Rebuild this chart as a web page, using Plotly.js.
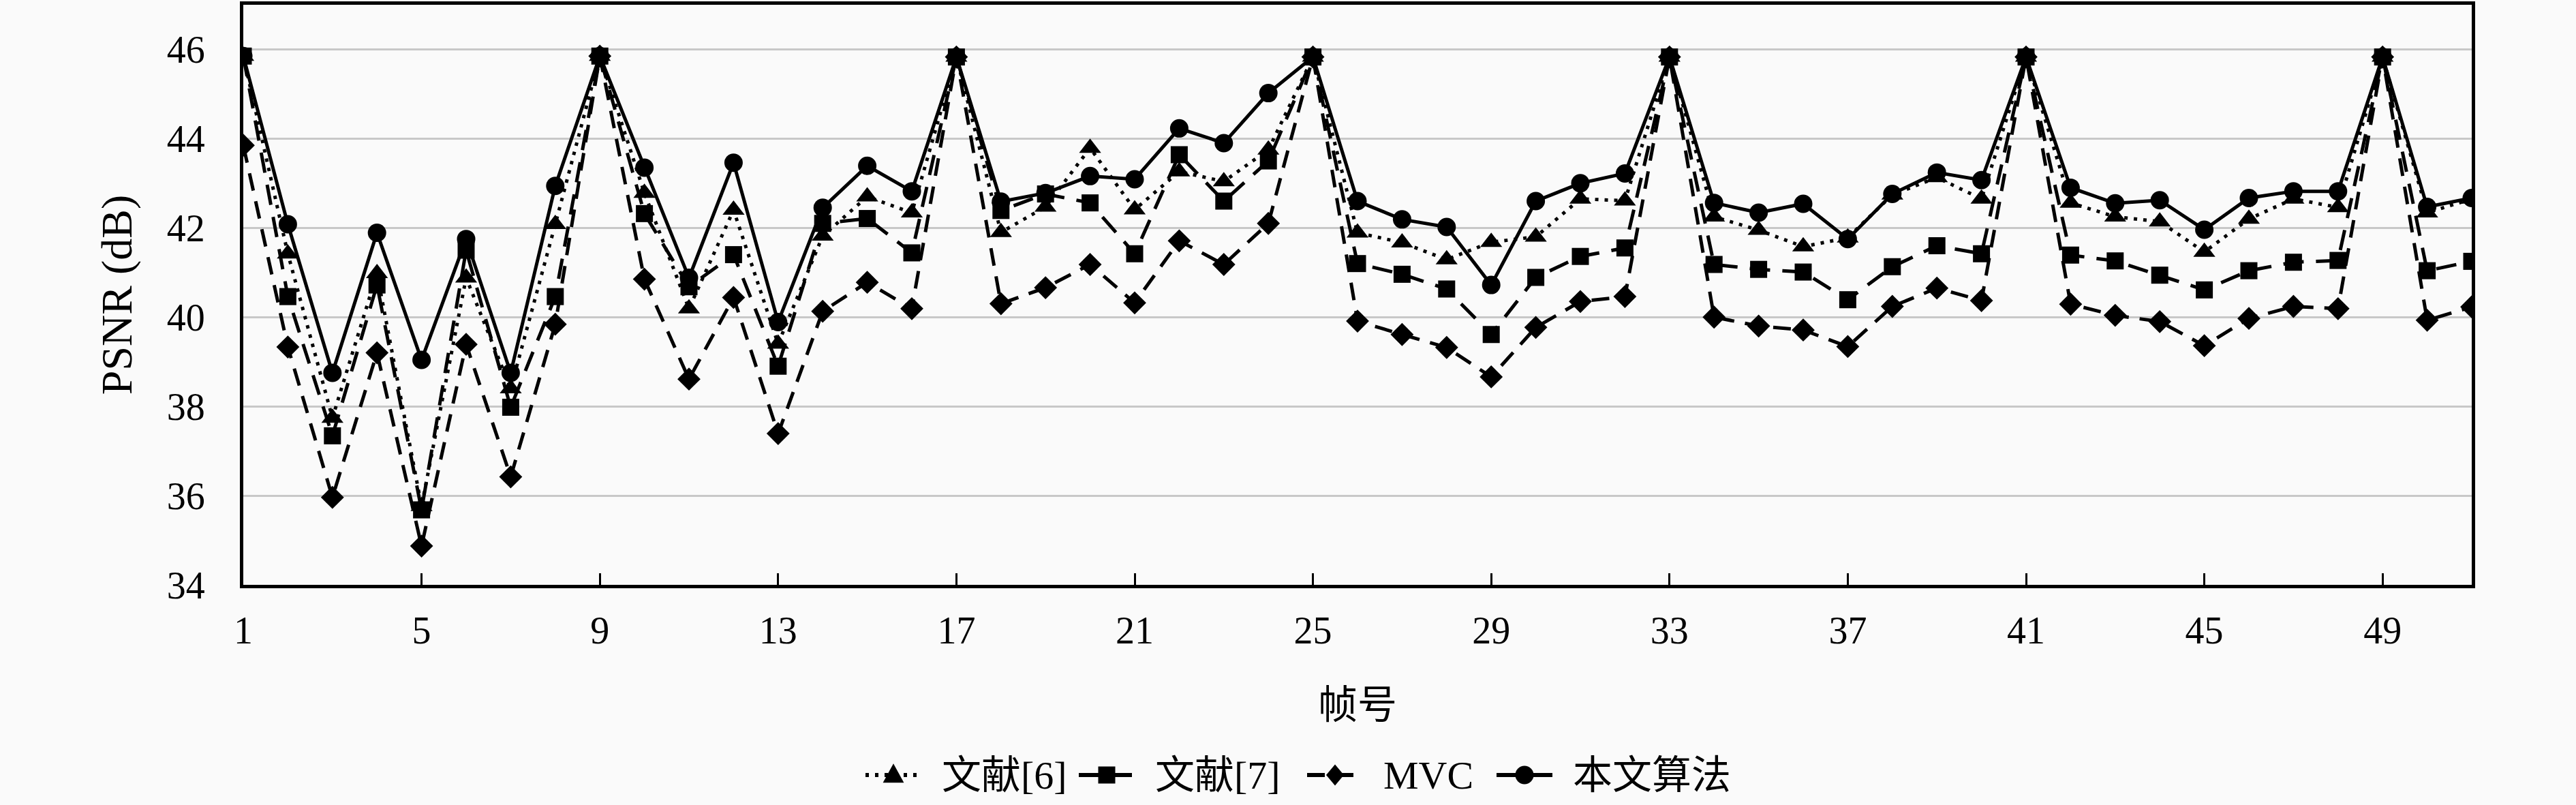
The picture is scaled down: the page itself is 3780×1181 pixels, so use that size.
<!DOCTYPE html>
<html>
<head>
<meta charset="utf-8">
<script src="https://cdn.plot.ly/plotly-3.0.1.min.js"></script>
<style>
  html, body { margin: 0; padding: 0; background: #fafafa; }
  #chart { width: 3780px; height: 1181px; }
</style>
</head>
<body>
<div id="chart"></div>
<script>
// frame numbers
var frames = [1,2,3,4,5,6,7,8,9,10,11,12,13,14,15,16,17,18,19,20,21,22,23,24,25,26,
  27,28,29,30,31,32,33,34,35,36,37,38,39,40,41,42,43,44,45,46,47,48,49,50,51];

// PSNR (dB) per method
var ref6 = [45.85,41.42,37.74,40.98,35.76,40.88,38.40,42.08,45.85,42.78,40.19,42.40,39.40,41.82,42.70,42.34,45.83,
  41.90,42.47,43.79,42.41,43.26,43.04,43.75,45.83,41.89,41.67,41.29,41.68,41.80,42.65,42.61,45.83,
  42.25,41.95,41.58,41.78,42.74,43.13,42.65,45.83,42.56,42.25,42.14,41.46,42.20,42.65,42.46,45.83,42.34,42.65];
var ref7 = [45.85,40.46,37.34,40.72,35.68,41.50,37.98,40.46,45.85,42.32,40.68,41.40,38.90,42.10,42.21,41.44,45.83,
  42.39,42.76,42.56,41.42,43.64,42.60,43.50,45.83,41.20,40.96,40.63,39.61,40.89,41.36,41.55,45.83,
  41.18,41.07,41.01,40.39,41.13,41.60,41.42,45.83,41.39,41.26,40.94,40.61,41.04,41.23,41.27,45.83,41.04,41.25];
var mvc = [43.85,39.33,35.96,39.20,34.87,39.39,36.42,39.84,45.85,40.85,38.61,40.44,37.39,40.13,40.78,40.19,45.83,
  40.30,40.66,41.18,40.32,41.71,41.18,42.10,45.83,39.91,39.61,39.32,38.66,39.77,40.35,40.46,45.83,
  40.00,39.80,39.71,39.34,40.24,40.65,40.37,45.83,40.29,40.04,39.90,39.36,39.97,40.24,40.19,45.83,39.93,40.23];
var ours = [45.85,42.08,38.75,41.89,39.04,41.75,38.75,42.94,45.85,43.35,40.88,43.46,39.89,42.45,43.39,42.82,45.83,
  42.59,42.78,43.16,43.09,44.23,43.90,45.02,45.83,42.60,42.19,42.02,40.72,42.60,43.00,43.22,45.83,
  42.56,42.34,42.54,41.75,42.76,43.24,43.07,45.83,42.90,42.55,42.62,41.96,42.67,42.82,42.82,45.83,42.47,42.67];

var names = ['文献[6]', '文献[7]', 'MVC', '本文算法'];
var xTicks = [1,5,9,13,17,21,25,29,33,37,41,45,49];
var yTicks = [34,36,38,40,42,44,46];

var fontFam = '"Liberation Serif", "DejaVu Serif", "Noto Sans CJK SC", serif';

// plot area in pixels
var W = 3780, H = 1181;
var M = {l: 357, r: 153, t: 7, b: 323};
var pw = W - M.l - M.r, ph = H - M.t - M.b;
function px(x) { return (x - M.l) / pw; }
function py(y) { return (H - M.b - y) / ph; }

var styles = [
  {dash: '5px,9px', symbol: 'triangle-up', size: 28},
  {dash: '30px,18px', symbol: 'square', size: 25},
  {dash: '26px,16px', symbol: 'diamond', size: 26},
  {dash: 'solid', symbol: 'circle', size: 27}
];
var ys = [ref6, ref7, mvc, ours];

function series(i) {
  return {
    x: frames, y: ys[i], name: names[i], type: 'scatter', mode: 'lines+markers',
    line: {color: '#000', width: 5, dash: styles[i].dash},
    marker: {symbol: styles[i].symbol, size: styles[i].size, color: '#000'},
    showlegend: false
  };
}

// draw order: ours, MVC, [6], [7] so the squares sit on top at the peaks
var data = [series(3), series(2), series(0), series(1)];

// hand-made legend row below the axis title
var legX = [1270, 1583, 1918, 2196];   // left end of each sample
var legY = 1137;
var shapes = [], annotations = [];
function markerShape(kind, cx, cy, s) {
  var p;
  if (kind === 'circle') {
    return {type: 'circle', xref: 'paper', yref: 'paper', x0: px(cx - s / 2), x1: px(cx + s / 2),
      y0: py(cy + s / 2), y1: py(cy - s / 2), fillcolor: '#000', line: {width: 0}};
  }
  if (kind === 'triangle-up') {
    p = [[cx, cy - s * 0.6], [cx - s * 0.55, cy + s * 0.4], [cx + s * 0.55, cy + s * 0.4]];
  } else if (kind === 'square') {
    p = [[cx - s / 2, cy - s / 2], [cx + s / 2, cy - s / 2], [cx + s / 2, cy + s / 2], [cx - s / 2, cy + s / 2]];
  } else {
    p = [[cx, cy - s * 0.6], [cx + s * 0.5, cy], [cx, cy + s * 0.6], [cx - s * 0.5, cy]];
  }
  var path = p.map(function(q, k) { return (k ? 'L' : 'M') + px(q[0]) + ',' + py(q[1]); }).join('') + 'Z';
  return {type: 'path', xref: 'paper', yref: 'paper', path: path, fillcolor: '#000', line: {width: 0}};
}
for (var i = 0; i < names.length; i++) {
  var x0 = legX[i], x1 = legX[i] + 82;
  shapes.push({type: 'line', xref: 'paper', yref: 'paper', x0: px(x0), x1: px(x1), y0: py(legY), y1: py(legY),
    line: {color: '#000', width: 6, dash: styles[i].dash}});
  shapes.push(markerShape(styles[i].symbol, (x0 + x1) / 2, legY, styles[i].size));
  annotations.push({xref: 'paper', yref: 'paper', x: px(x1 + 28), y: py(legY), xanchor: 'left', yanchor: 'middle',
    text: names[i], showarrow: false, font: {family: fontFam, size: 58, color: '#000'}});
}

var layout = {
  width: W, height: H,
  paper_bgcolor: '#fafafa', plot_bgcolor: '#fafafa',
  margin: M,
  font: {family: fontFam, size: 56, color: '#000'},
  showlegend: false,
  shapes: shapes,
  annotations: annotations,
  xaxis: {
    range: [1, 51], tickvals: xTicks, ticks: 'inside', ticklen: 17, tickwidth: 3, tickcolor: '#000',
    showline: true, linecolor: '#000', linewidth: 5, mirror: true, showgrid: false, zeroline: false,
    tickfont: {family: fontFam, size: 56}, ticklabelstandoff: 14,
    title: {text: '帧号', font: {family: fontFam, size: 58}, standoff: 60}
  },
  yaxis: {
    range: [34, 47], tickvals: yTicks, ticks: '',
    showline: true, linecolor: '#000', linewidth: 5, mirror: true,
    showgrid: true, gridcolor: '#c8c8c8', gridwidth: 3, zeroline: false,
    tickfont: {family: fontFam, size: 56}, ticklabelstandoff: 40,
    title: {text: 'PSNR (dB)', font: {family: fontFam, size: 64}, standoff: 32}
  }
};

Plotly.newPlot('chart', data, layout, {staticPlot: true});
</script>
</body>
</html>
